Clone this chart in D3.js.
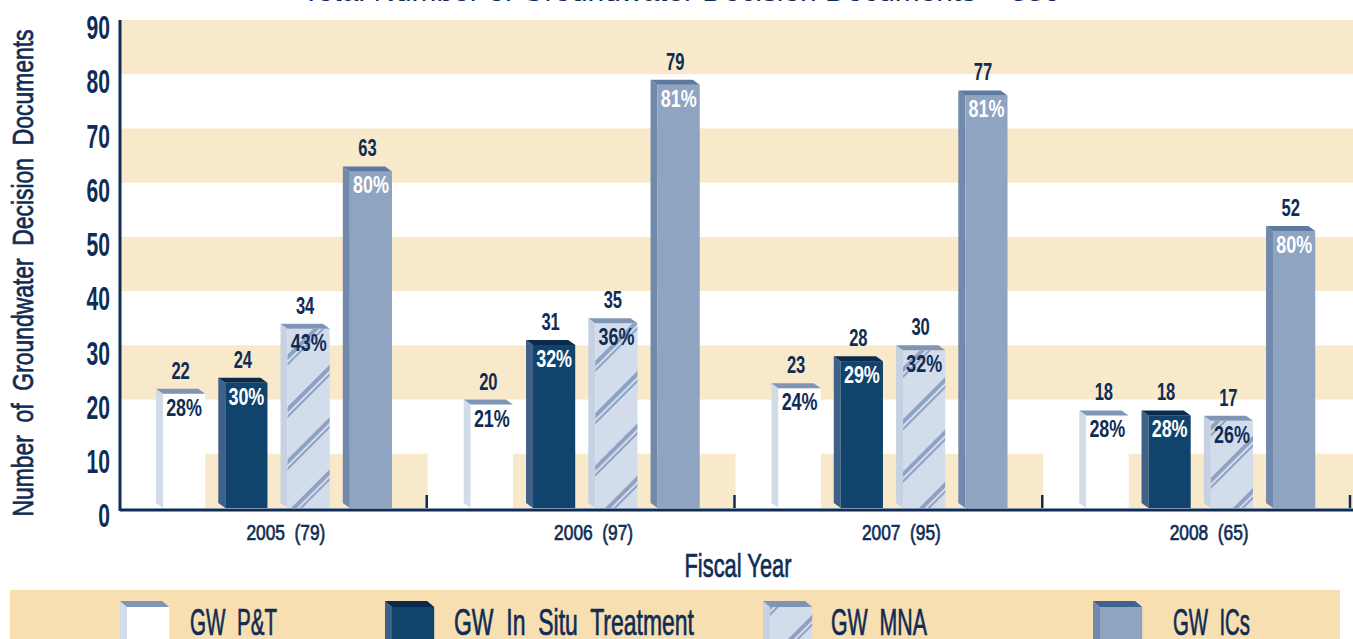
<!DOCTYPE html>
<html>
<head>
<meta charset="utf-8">
<script src="https://cdn.jsdelivr.net/npm/d3@7"></script>
<style>
  body { margin: 0; background: #fff; }
  svg text { font-family: "Liberation Sans", Arial, sans-serif; fill: #0f2c55; }
</style>
</head>
<body>
<svg></svg>
<script>
// data
var years = ["2005", "2006", "2007", "2008"];
var totals = [79, 97, 95, 65];
var series = ["GW P&T", "GW In Situ Treatment", "GW MNA", "GW ICs"];
var ptValues = [22, 20, 23, 18];
var insituValues = [24, 31, 28, 18];
var mnaValues = [34, 35, 30, 17];
var icValues = [63, 79, 77, 52];
var ptPct = [28, 21, 24, 28];
var insituPct = [30, 32, 29, 28];
var mnaPct = [43, 36, 32, 26];
var icPct = [80, 81, 81, 80];
var yTicks = [0, 10, 20, 30, 40, 50, 60, 70, 80, 90];
var totalDocs = 336;

// squeeze text horizontally to mimic the condensed face
var squeeze = function(sel, factor)
{
  sel.each(function(){
    var w = this.getComputedTextLength();
    d3.select(this)
      .attr('textLength', w * factor)
      .attr('lengthAdjust', 'spacingAndGlyphs');
  });
}
var fitTo = function(sel, w)
{
  sel.attr('textLength', w).attr('lengthAdjust', 'spacingAndGlyphs');
}
// a bit heavier than regular
var medium = function(sel)
{
  sel.style('stroke', '#0f2c55').style('stroke-width', '0.7px');
}

var drawChart = function()
{
  var screen = {width: 1353, height: 639};
  var margins = {top: 20, left: 120, right: 2, bottom: 131};

  var svg = d3.select('svg')
            .attr('width', screen.width)
            .attr('height', screen.height);

  // colours per series: front, side, top, label
  var looks = [
    {front: "#ffffff", side: "#d2dce9", top: "#7f95b6", label: "#0f2c55"},
    {front: "#11446d", side: "#3f6189", top: "#0c2a4d", label: "#ffffff"},
    {front: "#d3dcea", side: "#c6d2e3", top: "#7f95b6", label: "#0f2c55"},
    {front: "#8fa4c0", side: "#7189ab", top: "#5d79a0", label: "#ffffff"}
  ];

  var values = [ptValues, insituValues, mnaValues, icValues];
  var pcts = [ptPct, insituPct, mnaPct, icPct];

  var rows = [];
  years.forEach(function(y, i){
    series.forEach(function(s, j){
      rows.push({year: y, series: s, si: j, value: values[j][i], pct: pcts[j][i]});
    });
  });

  var defs = svg.append('defs');
  var pat = defs.append('pattern')
      .attr('id', 'stripes')
      .attr('patternUnits', 'userSpaceOnUse')
      .attr('width', 20).attr('height', 37)
      .attr('patternTransform', 'rotate(-45)');
  pat.append('rect').attr('width', 20).attr('height', 37).attr('fill', looks[2].front);
  pat.append('rect').attr('y', 10).attr('width', 20).attr('height', 4).attr('fill', '#8ea3c3');
  pat.append('rect').attr('y', 16).attr('width', 20).attr('height', 2).attr('fill', '#8ea3c3');

  var xScale = d3.scaleBand()
                 .domain(years)
                 .range([margins.left, screen.width - margins.right]);
  var inner = d3.scaleBand()
                .domain(series)
                .range([36, 272])
                .paddingInner(0.21);
  var yScale = d3.scaleLinear()
                 .domain([0, 90])
                 .range([508, margins.top]);

  var depthX = 7, depthY = 5;
  var barW = inner.bandwidth();
  var frontW = barW - depthX;

  // background bands
  var bands = svg.append('g');
  [20, 40, 60, 80].forEach(function(v){
    bands.append('rect')
      .attr('x', margins.left)
      .attr('y', yScale(v + 10))
      .attr('width', screen.width - margins.left)
      .attr('height', yScale(v) - yScale(v + 10))
      .attr('fill', '#f9e9cb');
  });
  // bottom band starts at each white bar's front edge
  years.forEach(function(y, i){
    var start = xScale(y) + inner(series[0]) + barW;
    var end = i < years.length - 1 ? xScale(years[i + 1]) : screen.width;
    bands.append('rect')
      .attr('x', start)
      .attr('y', yScale(10))
      .attr('width', end - start)
      .attr('height', yScale(0) - yScale(10))
      .attr('fill', '#f9e9cb');
  });

  // title (mostly cut off at the top)
  svg.append('text')
    .attr('x', 681).attr('y', 1)
    .attr('text-anchor', 'middle')
    .style('font-size', '27px')
    .text('Total Number of Groundwater Decision Documents = ' + totalDocs)
    .call(fitTo, 758);

  // bars
  var plot = svg.append('g');
  var bars = plot.selectAll('g.bar')
    .data(rows)
    .enter().append('g')
    .attr('class', 'bar');

  var bx = function(d){ return xScale(d.year) + inner(d.series); };
  var base = yScale(0);

  bars.append('polygon')
    .attr('points', function(d){
      var x = bx(d), y0 = yScale(d.value);
      return [[x, y0], [x + depthX, y0 + depthY], [x + depthX, base], [x, base - depthY]].join(' ');
    })
    .attr('fill', function(d){ return looks[d.si].side; });

  bars.append('rect')
    .attr('x', function(d){ return bx(d) + depthX; })
    .attr('y', function(d){ return yScale(d.value) + depthY; })
    .attr('width', frontW)
    .attr('height', function(d){ return base - yScale(d.value) - depthY; })
    .attr('fill', function(d){ return d.si == 2 ? 'url(#stripes)' : looks[d.si].front; });

  bars.append('polygon')
    .attr('points', function(d){
      var x = bx(d), y0 = yScale(d.value);
      return [[x, y0], [x + frontW, y0], [x + barW, y0 + depthY], [x + depthX, y0 + depthY]].join(' ');
    })
    .attr('fill', function(d){ return looks[d.si].top; });

  bars.append('text')
    .attr('x', function(d){ return bx(d) + barW / 2; })
    .attr('y', function(d){ return yScale(d.value) - 10; })
    .attr('text-anchor', 'middle')
    .style('font-size', '23px')
    .style('font-weight', 'bold')
    .text(function(d){ return d.value; })
    .call(squeeze, 0.72);

  bars.append('text')
    .attr('x', function(d){ return bx(d) + depthX + frontW / 2; })
    .attr('y', function(d){ return yScale(d.value) + 27; })
    .attr('text-anchor', 'middle')
    .style('font-size', '23px')
    .style('font-weight', 'bold')
    .style('fill', function(d){ return looks[d.si].label; })
    .text(function(d){ return d.pct + '%'; })
    .call(squeeze, 0.78);

  // axes
  var yAxis = d3.axisLeft(yScale).tickValues(yTicks).tickSize(0).tickPadding(10);
  var gy = svg.append('g')
    .attr('transform', 'translate(' + margins.left + ',0)')
    .call(yAxis);
  gy.select('.domain').attr('stroke', '#0f2c55').attr('stroke-width', 3)
    .attr('d', 'M0,' + margins.top + 'V' + (base + 3));
  gy.selectAll('text')
    .attr('dy', '0.55em')
    .style('font-size', '34px')
    .style('font-weight', 'bold')
    .style('font-family', '"Liberation Sans", Arial, sans-serif')
    .style('fill', '#0f2c55')
    .call(squeeze, 0.62);

  var xAxis = d3.axisBottom(xScale).tickSize(0).tickPadding(14)
    .tickFormat(function(d, i){ return d + '  (' + totals[i] + ')'; });
  var gx = svg.append('g')
    .attr('transform', 'translate(0,' + (base + 2) + ')')
    .call(xAxis);
  gx.select('.domain').attr('stroke', '#0f2c55').attr('stroke-width', 3)
    .attr('d', 'M' + margins.left + ',0H' + screen.width);
  gx.selectAll('text')
    .attr('dx', 12)
    .style('font-size', '22px')
    .style('font-family', '"Liberation Sans", Arial, sans-serif')
    .style('fill', '#0f2c55')
    .style('white-space', 'pre')
    .call(fitTo, 79)
    .call(medium);

  // group separator ticks
  svg.append('g').selectAll('line')
    .data(years.slice(1).concat(['end']))
    .enter().append('line')
    .attr('x1', function(d){ return d == 'end' ? screen.width - 3 : xScale(d) - 1; })
    .attr('x2', function(d){ return d == 'end' ? screen.width - 3 : xScale(d) - 1; })
    .attr('y1', base - 13).attr('y2', base)
    .attr('stroke', '#0f2c55').attr('stroke-width', 2.5);

  svg.append('text')
    .attr('x', 738).attr('y', 577)
    .attr('text-anchor', 'middle')
    .style('font-size', '34px')
    .text('Fiscal Year')
    .call(fitTo, 107)
    .call(medium);

  svg.append('text')
    .attr('transform', 'translate(33,273) rotate(-90)')
    .attr('text-anchor', 'middle')
    .style('font-size', '30px')
    .style('white-space', 'pre')
    .text('Number  of  Groundwater  Decision  Documents')
    .call(fitTo, 487)
    .call(medium);

  // legend
  var legend = svg.append('g');
  legend.append('rect')
    .attr('x', 10).attr('y', 590)
    .attr('width', 1330).attr('height', 60)
    .attr('fill', '#f7dfb1');

  var legendX = [120, 385, 763, 1093];
  var textX = [190, 454, 831, 1173];
  var textW = [87, 240, 96, 77];
  var legendLabels = ["GW  P&T", "GW  In  Situ  Treatment", "GW  MNA", "GW  ICs"];
  series.forEach(function(s, j){
    var x = legendX[j], y0 = 601, h = 60;
    var g = legend.append('g');
    g.append('polygon')
      .attr('points', [[x, y0], [x + depthX, y0 + depthY + 1], [x + depthX, y0 + h], [x, y0 + h]].join(' '))
      .attr('fill', looks[j].side);
    g.append('rect')
      .attr('x', x + depthX).attr('y', y0 + depthY + 1)
      .attr('width', frontW).attr('height', h)
      .attr('fill', j == 2 ? 'url(#stripes)' : looks[j].front);
    g.append('polygon')
      .attr('points', [[x, y0], [x + frontW, y0], [x + barW, y0 + depthY + 1], [x + depthX, y0 + depthY + 1]].join(' '))
      .attr('fill', j == 3 ? '#3f6390' : looks[j].top);
    g.append('text')
      .attr('x', textX[j]).attr('y', 635)
      .style('font-size', '36px')
      .style('white-space', 'pre')
      .text(legendLabels[j])
      .call(fitTo, textW[j])
      .call(medium);
  });
}

drawChart();
</script>
</body>
</html>
